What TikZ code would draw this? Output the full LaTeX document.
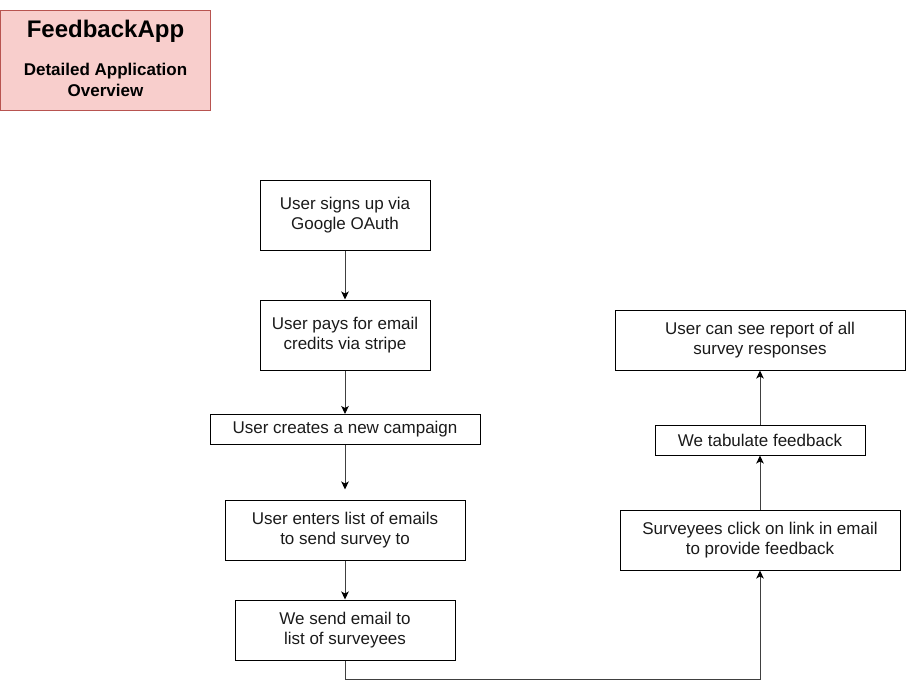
\documentclass[tikz,border=0pt]{standalone}
\usepackage{fontspec}
\setmainfont{Liberation Sans}
\usetikzlibrary{arrows.meta}
\definecolor{titelrot}{HTML}{F8CECC}
\definecolor{titelrand}{HTML}{B85450}
\definecolor{textgrau}{HTML}{1A1A1A}
\tikzset{
  schritt/.style={draw, line width=1pt, align=center, text=textgrau, inner sep=0pt,
    font=\fontsize{17}{20.4}\selectfont},
  fluss/.style={-{Stealth[length=8pt,width=7.5pt,inset=2pt,black]}, line width=0.9pt, draw=black!75}
}
\begin{document}
\begin{tikzpicture}[x=1pt,y=-1pt]
  \useasboundingbox (0,0) rectangle (906,689);

  % Titelkasten
  \node[draw=titelrand, fill=titelrot, line width=1pt, minimum width=210pt, minimum height=100pt] (titel) at (105.5,60) {};
  \node[font=\bfseries\fontsize{24}{28}\selectfont] (titelname) at (105.5,31) {FeedbackApp};
  \node[font=\bfseries\fontsize{17}{20.4}\selectfont, align=center] (untertitel) at (105.5,80) {Detailed Application\\Overview};

  % Linke Spalte: Ablauf des Nutzers
  \node[schritt, minimum width=170pt, minimum height=70pt] (anmelden) at (345,215) {User signs up via\\Google OAuth};
  \node[schritt, minimum width=170pt, minimum height=70pt] (bezahlen) at (345,335) {User pays for email\\credits via stripe};
  \node[schritt, minimum width=270pt, minimum height=30pt] (kampagne) at (345,429.5) {User creates a new campaign};
  \node[schritt, minimum width=240pt, minimum height=60pt] (emails) at (345,530) {User enters list of emails\\to send survey to};
  \node[schritt, minimum width=220pt, minimum height=60pt] (senden) at (345,630) {We send email to\\list of surveyees};

  % Rechte Spalte: Rueckmeldungen
  \node[schritt, minimum width=280pt, minimum height=60pt] (klicken) at (760,540) {Surveyees click on link in email\\to provide feedback};
  \node[schritt, minimum width=210pt, minimum height=30pt] (tabelle) at (760,440) {We tabulate feedback};
  \node[schritt, minimum width=290pt, minimum height=60pt] (bericht) at (760,340) {User can see report of all\\survey responses};

  % Pfeile links
  \draw[fluss] (anmelden) -- (bezahlen);
  \draw[fluss] (bezahlen) -- (kampagne);
  \draw[fluss, shorten >=10pt] (kampagne) -- (emails);
  \draw[fluss] (emails) -- (senden);

  % Verbindung unten nach rechts
  \coordinate (knick) at (345,679.5);
  \draw[fluss] (senden.south) -- (knick) -| (klicken.south);

  % Pfeile rechts
  \draw[fluss] (klicken) -- (tabelle);
  \draw[fluss] (tabelle) -- (bericht);
\end{tikzpicture}
\end{document}
